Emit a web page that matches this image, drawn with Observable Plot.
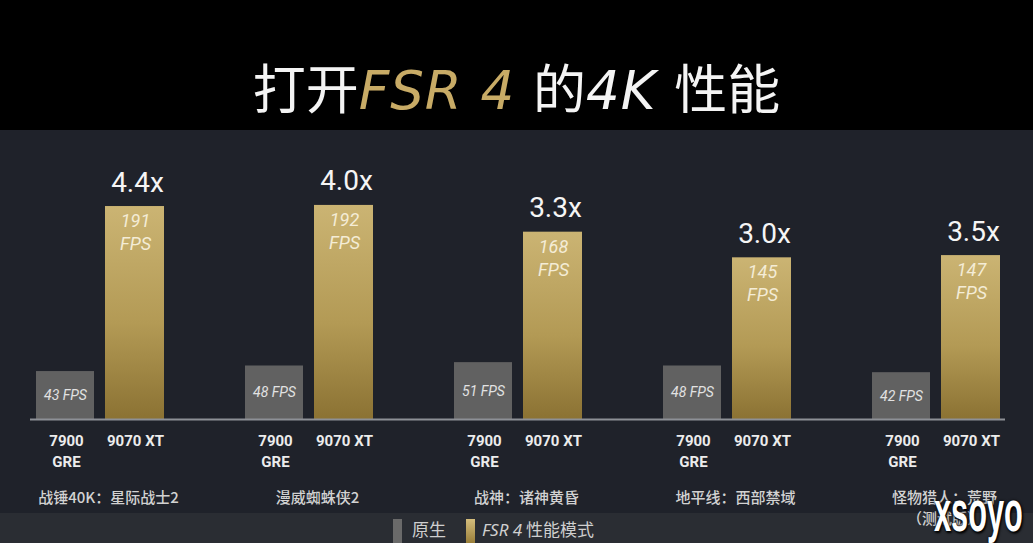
<!DOCTYPE html>
<html>
<head>
<meta charset="utf-8">
<script src="https://cdn.jsdelivr.net/npm/d3@7"></script>
<script src="https://cdn.jsdelivr.net/npm/@observablehq/plot@0.6"></script>
<style>
  html, body { margin: 0; padding: 0; background: #1f222a; width: 1033px; height: 543px; overflow: hidden; }
  #wrap { position: relative; width: 1033px; height: 543px; }
  #header { position: relative; height: 130px; background: #000; }
  #title { position: absolute; left: 0; right: 0; top: 53px; text-align: center; font-family: "Noto Sans CJK SC", "Noto Sans", sans-serif; font-size: 53px; line-height: 66px; color: #f4f4f4; font-weight: 400; white-space: nowrap; }
  #title .lat { font-style: italic; font-family: "DejaVu Sans", sans-serif; font-weight: 300; letter-spacing: 1px; }
  #title .fsr { color: #c8ab66; }
  #chart { position: relative; z-index: 2; height: 383px; }
  #chart svg { overflow: visible; display: block; }
  #legend { position: relative; z-index: 1; height: 30px; background: #2a2d33; font-family: "Noto Sans CJK SC", sans-serif; font-size: 17px; color: #cfcfcf; }
  #legend .sw { position: absolute; top: 6px; width: 9px; height: 24px; }
  #legend .lb { position: absolute; top: 3px; line-height: 26px; white-space: nowrap; }
  #wm { position: absolute; z-index: 3; left: 934px; top: 479px; font-family: "Liberation Sans", sans-serif; font-weight: bold; font-size: 58px; line-height: 64px; color: #fff; text-shadow: 0 0 4px #000, 2px 2px 3px #000; transform: scaleX(0.53); transform-origin: left top; }
</style>
</head>
<body>
<div id="wrap">
  <div id="header"><div id="title">打开<span class="lat fsr">FSR 4 </span>的<span class="lat">4K </span>性能</div></div>
  <div id="chart"></div>
  <div id="legend">
    <div class="sw" style="left:393px;background:#6a6a6a"></div>
    <div class="lb" style="left:412px">原生</div>
    <div class="sw" style="left:466px;background:linear-gradient(#d4bd7c,#9a7f3a)"></div>
    <div class="lb" style="left:482px"><span style="font-style:italic;font-family:'Noto Sans',sans-serif">FSR 4</span> 性能模式</div>
  </div>
  <div id="wm">xsoyo</div>
</div>
<script>
const games = ["战锤40K：星际战士2", "漫威蜘蛛侠2", "战神：诸神黄昏", "地平线：西部禁域", "怪物猎人：荒野\n（测试版）"];
const cards = ["7900 GRE", "9070 XT"];
const cardLabels = ["7900\nGRE", "9070 XT"];
const nativeFps = [43, 48, 51, 48, 42];
const fsrFps = [191, 192, 168, 145, 147];
const uplift = ["4.4x", "4.0x", "3.3x", "3.0x", "3.5x"];

const nat = games.map((g, i) => ({game: g, card: cards[0], label: cardLabels[0], fps: nativeFps[i]}));
const fsr = games.map((g, i) => ({game: g, card: cards[1], label: cardLabels[1], fps: fsrFps[i], uplift: uplift[i]}));

const font = "Roboto, 'Noto Sans', sans-serif";
const off = 35; // offset of each card's bar centre from the game's band centre

const plot = Plot.plot({
  width: 1033,
  height: 383,
  marginLeft: 30,
  marginRight: 28,
  marginTop: 0,
  marginBottom: 94,
  style: {background: "transparent", overflow: "visible", fontFamily: font},
  x: {domain: games, range: [36, 1000], paddingInner: 81 / 209, paddingOuter: 0, axis: null, label: null},
  y: {domain: [0, 200], range: [289, 66], axis: null, label: null},
  marks: [
    Plot.barY(nat, {x: "game", y: "fps", fill: "#616161", insetRight: 70}),
    Plot.barY(fsr, {x: "game", y: "fps", fill: "url(#goldGrad)", insetLeft: 69}),
    Plot.ruleY([0], {stroke: "#8d9096", strokeWidth: 2}),
    Plot.text(fsr, {x: "game", y: "fps", text: "uplift", dx: off + 2, dy: -24, fontSize: 28, fill: "#f5f5f5", fontWeight: 400}),
    Plot.text(fsr, {x: "game", y: "fps", text: d => d.fps + "\nFPS", dx: off, lineAnchor: "top", dy: 4, fontSize: 18, lineHeight: 1.28, fill: "#f4ecd6", fontStyle: "italic"}),
    Plot.text(nat, {x: "game", y: d => d.fps / 2, text: d => d.fps + " FPS", dx: -off, fontSize: 14, fill: "#e2e2e2", fontStyle: "italic"}),
    Plot.text(nat, {x: "game", y: 0, text: "label", dx: -off + 1, lineAnchor: "top", dy: 12, fontSize: 15, lineHeight: 1.4, fontWeight: "bold", fill: "#ececec"}),
    Plot.text(fsr, {x: "game", y: 0, text: "label", dx: off, lineAnchor: "top", dy: 12, fontSize: 15, lineHeight: 1.4, fontWeight: "bold", fill: "#ececec"}),
    Plot.text(games, {x: d => d, y: 0, text: d => d, dx: 8, lineAnchor: "top", dy: 69, fontSize: 15, lineHeight: 1.4, fill: "#d2d2d2", fontFamily: "'Noto Sans CJK SC', sans-serif", fontWeight: 500})
  ]
});

const defs = d3.select(plot).insert("defs", ":first-child");
const grad = defs.append("linearGradient").attr("id", "goldGrad").attr("x1", 0).attr("y1", 0).attr("x2", 0).attr("y2", 1);
grad.append("stop").attr("offset", "0%").attr("stop-color", "#cbb473");
grad.append("stop").attr("offset", "55%").attr("stop-color", "#b39a55");
grad.append("stop").attr("offset", "100%").attr("stop-color", "#8b7233");

document.getElementById("chart").appendChild(plot);
</script>
</body>
</html>
